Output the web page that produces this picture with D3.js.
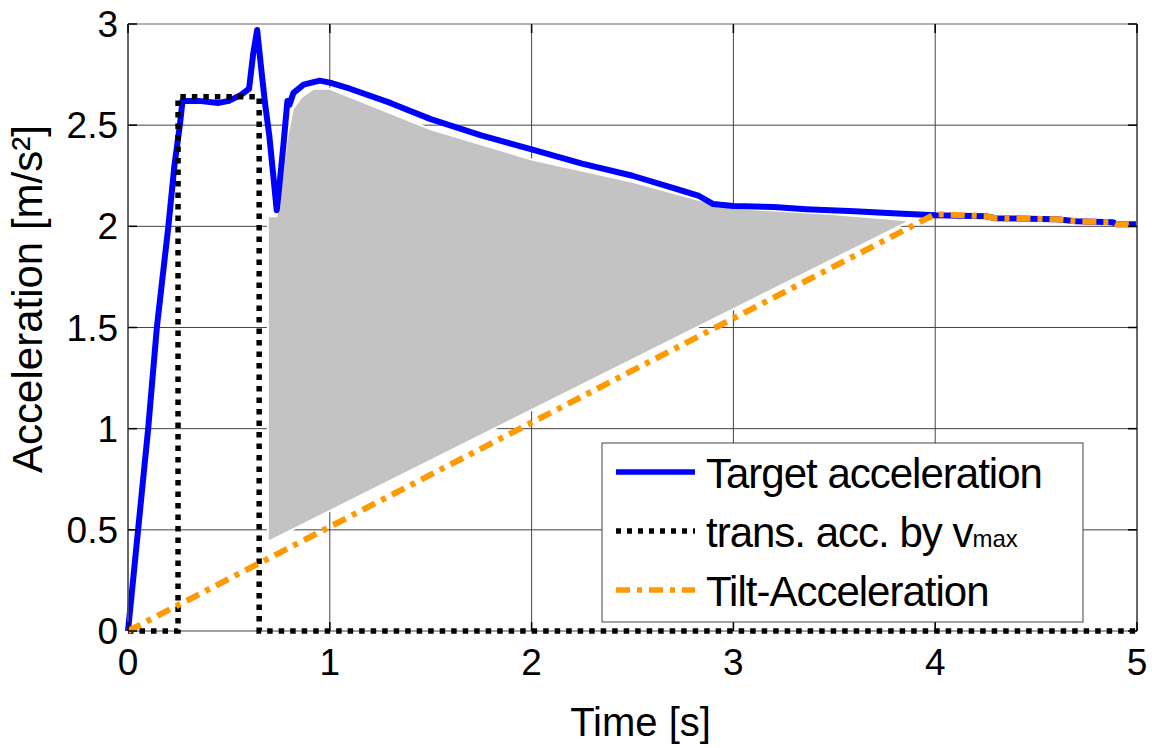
<!DOCTYPE html>
<html>
<head>
<meta charset="utf-8">
<script src="https://cdn.jsdelivr.net/npm/d3@7"></script>
<style>
  body { margin: 0; background: #fff; }
  text { font-family: Arial, "Liberation Sans", sans-serif; fill: #000; }
</style>
</head>
<body>
<div id="chart"></div>
<script>
// Target acceleration (blue)
const targetT = [0, 0.05, 0.1, 0.143, 0.2, 0.23, 0.257, 0.27, 0.35, 0.45, 0.5, 0.56, 0.6, 0.62, 0.64, 0.66, 0.68, 0.7, 0.72, 0.737, 0.75, 0.77, 0.79, 0.8, 0.82, 0.87, 0.95, 1.0, 1.1, 1.3, 1.5, 1.75, 2.0, 2.25, 2.5, 2.7, 2.83, 2.9, 3.0, 3.2, 3.36, 3.6, 3.79, 4.0, 4.25, 4.3, 4.6, 4.7, 4.88, 4.9, 5.0];
const targetA = [0, 0.5, 1.0, 1.5, 2.0, 2.3, 2.5, 2.62, 2.62, 2.61, 2.62, 2.65, 2.68, 2.85, 2.97, 2.78, 2.6, 2.45, 2.25, 2.08, 2.2, 2.4, 2.62, 2.6, 2.66, 2.7, 2.72, 2.71, 2.68, 2.61, 2.53, 2.45, 2.38, 2.31, 2.25, 2.19, 2.15, 2.11, 2.1, 2.095, 2.085, 2.075, 2.065, 2.055, 2.05, 2.04, 2.035, 2.025, 2.02, 2.01, 2.01];

// trans. acc. by vmax (black dotted)
const transT = [0, 0.248, 0.248, 0.65, 0.65, 5];
const transA = [0, 0, 2.64, 2.64, 0, 0];

// Tilt-Acceleration (orange dash-dot)
const tiltT = [0, 4.0, 4.25, 4.3, 4.6, 4.7, 4.88, 4.9, 5.0];
const tiltA = [0, 2.06, 2.05, 2.04, 2.035, 2.025, 2.02, 2.01, 2.01];

// grey area: upper edge then lower edge
const areaUpT = [0.693, 0.735, 0.76, 0.79, 0.817, 0.86, 0.92, 1.0, 1.5, 2.0, 2.5, 2.83, 3.0, 3.5, 3.86];
const areaUpA = [2.05, 2.05, 2.2, 2.45, 2.58, 2.64, 2.68, 2.68, 2.48, 2.33, 2.22, 2.13, 2.09, 2.06, 2.03];
const areaLowT = [3.86, 0.693];
const areaLowA = [2.02, 0.44];

const xTicks = [0, 1, 2, 3, 4, 5];
const yTicks = [0, 0.5, 1, 1.5, 2, 2.5, 3];

const legendItems = [
    { label: "Target acceleration", color: "#0000ff", dash: null },
    { label: "trans. acc. by v", sub: "max", color: "#000", dash: "5,6" },
    { label: "Tilt-Acceleration", color: "#ff9900", dash: "14,7,5,7" }
];

const width = 1152, height = 748;
const margin = { top: 24, right: 15, bottom: 117, left: 128 };

const x = d3.scaleLinear().domain([0, 5]).range([margin.left, width - margin.right]);
const y = d3.scaleLinear().domain([0, 3]).range([height - margin.bottom, margin.top]);

const svg = d3.select("#chart").append("svg")
    .attr("width", width)
    .attr("height", height);

// Grid
svg.append("g")
    .selectAll("line")
    .data(xTicks)
    .join("line")
    .attr("x1", d => x(d)).attr("x2", d => x(d))
    .attr("y1", y(0)).attr("y2", y(3))
    .attr("stroke", "#444").attr("stroke-width", 1);

svg.append("g")
    .selectAll("line")
    .data(yTicks)
    .join("line")
    .attr("x1", x(0)).attr("x2", x(5))
    .attr("y1", d => y(d)).attr("y2", d => y(d))
    .attr("stroke", d => d === 3 ? "#999" : "#444").attr("stroke-width", d => d === 3 ? 1.5 : 1);

// Grey area
const upPts = areaUpT.map((t, i) => [x(t), y(areaUpA[i])]);
const lowPts = areaLowT.map((t, i) => [x(t), y(areaLowA[i])]);
svg.append("path")
    .attr("d", d3.line()(upPts.concat(lowPts)) + "Z")
    .attr("fill", "#c3c3c3")
    .attr("stroke", "#fff")
    .attr("stroke-width", 2);

const line = d3.line().x(d => x(d[0])).y(d => y(d[1]));

// Target acceleration
svg.append("path")
    .datum(targetT.map((t, i) => [t, targetA[i]]))
    .attr("d", line)
    .attr("fill", "none")
    .attr("stroke", "#0000ff")
    .attr("stroke-width", 6)
    .attr("stroke-linejoin", "round");

// trans. acc.
svg.append("path")
    .datum(transT.map((t, i) => [t, transA[i]]))
    .attr("d", line)
    .attr("fill", "none")
    .attr("stroke", "#000")
    .attr("stroke-width", 5.5)
    .attr("stroke-dasharray", "5.5,6");

// Tilt
svg.append("path")
    .datum(tiltT.map((t, i) => [t, tiltA[i]]))
    .attr("d", line)
    .attr("fill", "none")
    .attr("stroke", "#ff9900")
    .attr("stroke-width", 6)
    .attr("stroke-dasharray", "14,7,5,7");

// Axis frame lines
svg.append("line")
    .attr("x1", x(0)).attr("x2", x(0)).attr("y1", y(0)).attr("y2", y(3))
    .attr("stroke", "#555").attr("stroke-width", 1.5);
svg.append("line")
    .attr("x1", x(5)).attr("x2", x(5)).attr("y1", y(0)).attr("y2", y(3))
    .attr("stroke", "#555").attr("stroke-width", 1.5);

// Tick marks (inside, all four sides)
const tk = 9;
const ticks = svg.append("g").attr("stroke", "#000").attr("stroke-width", 1.5);
yTicks.forEach(v => {
    ticks.append("line").attr("x1", x(0)).attr("x2", x(0) + tk).attr("y1", y(v)).attr("y2", y(v));
    ticks.append("line").attr("x1", x(5)).attr("x2", x(5) - tk).attr("y1", y(v)).attr("y2", y(v));
});
xTicks.forEach(v => {
    ticks.append("line").attr("x1", x(v)).attr("x2", x(v)).attr("y1", y(0)).attr("y2", y(0) - tk);
    ticks.append("line").attr("x1", x(v)).attr("x2", x(v)).attr("y1", y(3)).attr("y2", y(3) + tk);
});

// Tick labels
svg.append("g")
    .selectAll("text")
    .data(yTicks)
    .join("text")
    .attr("x", x(0) - 10)
    .attr("y", d => y(d) + 13)
    .attr("text-anchor", "end")
    .style("font-size", "37px")
    .text(d => d);

svg.append("g")
    .selectAll("text")
    .data(xTicks)
    .join("text")
    .attr("x", d => x(d))
    .attr("y", y(0) + 44)
    .attr("text-anchor", "middle")
    .style("font-size", "37px")
    .text(d => d);

// Axis titles
svg.append("text")
    .attr("x", (x(0) + x(5)) / 2 + 8)
    .attr("y", 736)
    .attr("text-anchor", "middle")
    .style("font-size", "40px")
    .text("Time [s]");

svg.append("text")
    .attr("transform", `translate(42,299) rotate(-90)`)
    .attr("text-anchor", "middle")
    .style("font-size", "42px")
    .text("Acceleration [m/s²]");

// Legend
const lg = svg.append("g").attr("transform", "translate(602,443)");
lg.append("rect")
    .attr("width", 481).attr("height", 179)
    .attr("fill", "#fff")
    .attr("stroke", "#444").attr("stroke-width", 1);

legendItems.forEach((d, i) => {
    const cy = 29 + i * 59;
    lg.append("line")
        .attr("x1", 14).attr("x2", 93)
        .attr("y1", cy).attr("y2", cy)
        .attr("stroke", d.color)
        .attr("stroke-width", 5.5)
        .attr("stroke-dasharray", d.dash);
    const t = lg.append("text")
        .attr("x", 104)
        .attr("y", cy + 16)
        .style("font-size", "42px")
        .style("letter-spacing", "-1px")
        .text(d.label);
    if (d.sub) {
        t.append("tspan").style("font-size", "24px").style("letter-spacing", "0px").text(d.sub);
    }
});
</script>
</body>
</html>
